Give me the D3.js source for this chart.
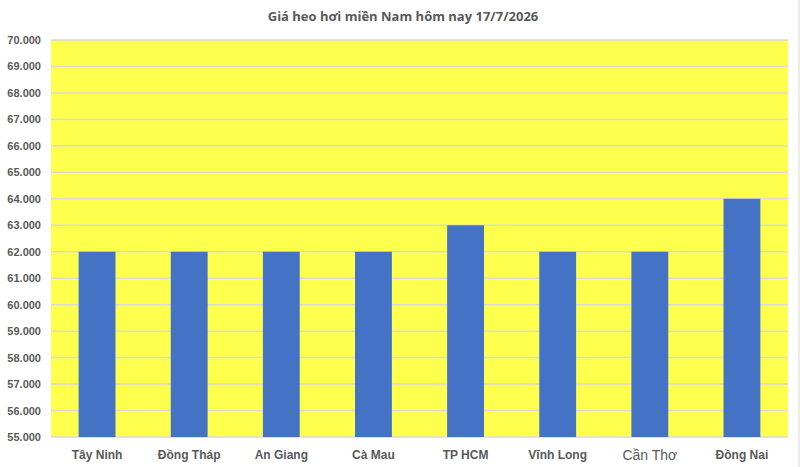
<!DOCTYPE html>
<html>
<head>
<meta charset="utf-8">
<script src="https://cdn.jsdelivr.net/npm/d3@7"></script>
<style>
  body { margin: 0; background: #fff; }
  svg { display: block; font-family: "Open Sans", "Noto Sans", sans-serif; }
</style>
</head>
<body>
<svg width="800" height="467"></svg>
<script>
// dữ liệu
const provinces = ["Tây Ninh", "Đồng Tháp", "An Giang", "Cà Mau", "TP HCM", "Vĩnh Long", "Cần Thơ", "Đồng Nai"];
const prices = [62000, 62000, 62000, 62000, 63000, 62000, 62000, 64000];
const yTicks = [55000, 56000, 57000, 58000, 59000, 60000, 61000, 62000, 63000, 64000, 65000, 66000, 67000, 68000, 69000, 70000];
const chartTitle = "Giá heo hơi miền Nam hôm nay 17/7/2026";

const svg = d3.select("svg");
const margin = { top: 40, right: 12, bottom: 30, left: 51 };
const width = 800 - margin.left - margin.right;
const height = 467 - margin.top - margin.bottom;

// tiêu đề
svg.append("text")
  .attr("x", 403)
  .attr("y", 21)
  .attr("text-anchor", "middle")
  .attr("fill", "#595959")
  .style("font-size", "13px")
  .style("font-weight", "bold")
  .text(chartTitle);

const g = svg.append("g").attr("transform", `translate(${margin.left},${margin.top})`);

const x = d3.scaleBand().domain(provinces).range([0, width]).paddingInner(0.6).paddingOuter(0.3);
const y = d3.scaleLinear().domain([55000, 70000]).range([height, 0]);

// nền vàng
g.append("rect")
  .attr("width", width)
  .attr("height", height)
  .attr("fill", "#ffff4d");

// lưới
g.selectAll("line.grid")
  .data(yTicks)
  .join("line")
  .attr("class", "grid")
  .attr("x1", 0)
  .attr("x2", width)
  .attr("y1", d => y(d))
  .attr("y2", d => y(d))
  .attr("stroke", "#d9d9d9")
  .attr("stroke-width", 1.5);

// cột
g.selectAll("rect.bar")
  .data(prices)
  .join("rect")
  .attr("class", "bar")
  .attr("x", (d, i) => x(provinces[i]))
  .attr("y", d => y(d))
  .attr("width", x.bandwidth())
  .attr("height", d => height - y(d))
  .attr("fill", "#4472c4");

// trục y
const yAxis = g.append("g")
  .call(d3.axisLeft(y).tickValues(yTicks).tickSize(0).tickPadding(10)
    .tickFormat(d => d3.format(".3f")(d / 1000)));
yAxis.select(".domain").remove();
yAxis.selectAll("text")
  .attr("fill", "#595959")
  .style("font-size", "11px")
  .style("font-weight", "bold");

// trục x
const xAxis = g.append("g")
  .attr("transform", `translate(0,${height})`)
  .call(d3.axisBottom(x).tickSize(0).tickPadding(13));
xAxis.select(".domain").remove();
xAxis.selectAll("text")
  .attr("fill", "#595959")
  .style("font-size", "12px")
  .style("font-weight", "bold")
  .filter(d => d === "Cần Thơ")
  .style("font-size", "14px")
  .style("font-weight", "400");

// viền phải
svg.append("line")
  .attr("x1", 799).attr("x2", 799)
  .attr("y1", 0).attr("y2", 467)
  .attr("stroke", "#d9d9d9");
</script>
</body>
</html>
